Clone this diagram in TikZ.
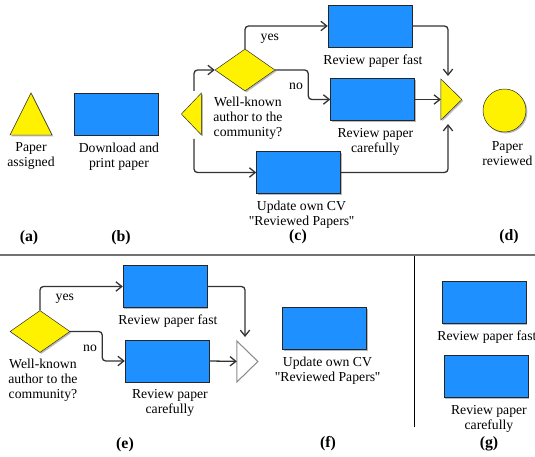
\documentclass[tikz,border=0pt]{standalone}
\usepackage{fontspec}
\setmainfont{Liberation Serif}
\newfontfamily\figfont{Liberation Serif}
\usepackage{tikz}
\usetikzlibrary{arrows.meta,shapes.geometric,positioning,shadows}
\definecolor{taskblue}{RGB}{30,144,255}
\begin{document}
\begin{tikzpicture}[x=0.03cm, y=-0.03cm,
    shade/.style={drop shadow={shadow xshift=1.2pt, shadow yshift=-1.2pt, opacity=.55}},
    task/.style={draw=black!85, fill=taskblue, minimum width=2.52cm, minimum height=1.26cm, inner sep=0, shade},
    gate/.style={diamond, draw=black!85, fill=yellow, minimum width=1.8cm, minimum height=1.26cm, inner sep=0, shade},
    evt/.style={isosceles triangle, isosceles triangle stretches, draw=black!85, fill=yellow, inner sep=0, outer sep=0, shade},
    evtbox/.style={minimum width=1.26cm, minimum height=1.26cm, inner sep=0, outer sep=0},
    evtpath/.style={draw=black!85, fill=yellow, shade},
    ghost/.style={isosceles triangle, isosceles triangle stretches, draw=black!45, fill=white, line width=0.9pt, inner sep=0, outer sep=0},
    endevt/.style={circle, draw=black!85, fill=yellow, minimum size=1.29cm, inner sep=0, shade},
    lbl/.style={align=center, inner sep=1pt, font=\figfont\fontsize{11.7}{12.8}\selectfont},
    nametxt/.style={lbl, xshift=2.5pt},
    tag/.style={font=\figfont\fontsize{13.5}{15}\selectfont\bfseries},
    arr/.style={-{Straight Barb[length=5pt,width=8pt]}, line width=1.1pt, draw=black!80, rounded corners=3pt}
]
\useasboundingbox (0,0) rectangle (535,457);

\node[evtbox] (assigned) at (31,114) {};
\draw[evtpath] (assigned.south west) -- (assigned.north) -- (assigned.south east) -- cycle;
\node[lbl, below=5pt of assigned] (assignedtxt) {Paper\\assigned};
\node[task] (print) at (116,114) {};
\node[nametxt, below=5pt of print] (printtxt) {Download and\\print paper};

\node[evt, shape border rotate=180, minimum height=0.6cm, minimum width=1.26cm] (split) at (193,114) {};
\coordinate (splitup) at (194,91);
\coordinate (splitdown) at (194,139);
\node[gate] (known) at (245,70) {};
\node[nametxt, below=4pt of known] (knowntxt) {Well-known\\author to the\\community?};
\node[task] (fast) at (370,26) {};
\node[nametxt, below=5pt of fast] (fasttxt) {Review paper fast};
\node[task] (careful) at (372.5,99.5) {};
\node[nametxt, below=5pt of careful] (carefultxt) {Review paper\\carefully};
\node[task] (cv) at (298.5,172.5) {};
\node[nametxt, below=5pt of cv] (cvtxt) {Update own CV\\\textquotedbl Reviewed Papers''};
\node[evt, minimum height=0.63cm, minimum width=1.23cm] (join) at (449.5,99.5) {};
\coordinate (jointop) at (448,76);
\coordinate (joinbot) at (448,124);
\node[endevt] (reviewed) at (504.5,110.5) {};
\node[nametxt, below=7pt of reviewed] (reviewedtxt) {Paper\\reviewed};

\draw[arr] (splitup) |- (known.west);
\draw[arr] (splitdown) |- (cv.west);
\draw[arr] (known.north) |- node[lbl, pos=0.65, below=5pt] {yes} (fast.west);
\draw[arr] (known.east) -- ++(33,0) |- node[lbl, pos=0.28, left=3pt] {no} (careful.west);
\draw[arr] (fast.east) -| (jointop);
\draw[arr] (careful.east) -- (join);
\draw[arr] (cv.east) -| (joinbot);

\node[tag] (taga) at (29,238) {(a)};
\node[tag] (tagb) at (121,238) {(b)};
\node[tag] (tagc) at (298,237) {(c)};
\node[tag] (tagd) at (509,237) {(d)};

\draw[line width=2.5pt, black!55] (0,255) -- (535,255);
\draw[line width=0.8pt, black] (414,256) -- (414,427);

\node[gate] (known2) at (40,331.5) {};
\node[nametxt, below=4pt of known2] (known2txt) {Well-known\\author to the\\community?};
\node[task] (fast2) at (165,286.5) {};
\node[nametxt, below=5pt of fast2] (fast2txt) {Review paper fast};
\node[task] (careful2) at (167,361) {};
\node[nametxt, below=5pt of careful2] (careful2txt) {Review paper\\carefully};
\node[ghost, minimum height=0.63cm, minimum width=1.23cm] (join2) at (245.5,361.5) {};
\coordinate (join2top) at (245,337);

\draw[arr] (known2.north) |- node[lbl, pos=0.65, below=5pt] {yes} (fast2.west);
\draw[arr] (known2.east) -- ++(32,0) |- node[lbl, pos=0.28, left=3pt] {no} (careful2.west);
\draw[arr] (fast2.east) -| (join2top);
\draw[arr] (careful2.east) -- (join2);

\node[task] (cv2) at (324.5,328.5) {};
\node[nametxt, below=5pt of cv2] (cv2txt) {Update own CV\\\textquotedbl Reviewed Papers''};

\node[task] (fast3) at (484,302.5) {};
\node[nametxt, below=5pt of fast3] (fast3txt) {Review paper fast};
\node[task] (careful3) at (486,376.5) {};
\node[nametxt, below=5pt of careful3] (careful3txt) {Review paper\\carefully};

\node[tag] (tage) at (125,445) {(e)};
\node[tag] (tagf) at (328,444) {(f)};
\node[tag] (tagg) at (489,444) {(g)};
\end{tikzpicture}
\end{document}
